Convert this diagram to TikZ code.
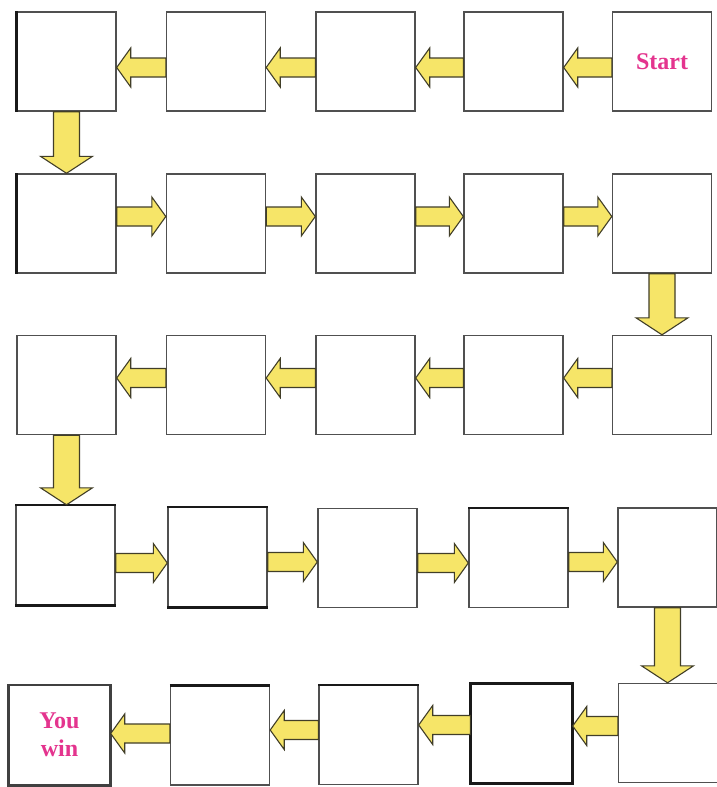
\documentclass[tikz,border=0pt]{standalone}
\usepackage{fontspec}
\setmainfont{Liberation Serif}
\usetikzlibrary{calc}
\definecolor{boxline}{RGB}{80,80,80}
\definecolor{arrfill}{RGB}{246,229,104}
\definecolor{arrline}{RGB}{65,62,40}
\definecolor{pinktext}{RGB}{228,52,142}
\tikzset{
  sq/.style={draw=boxline, line width=1.4pt, fill=white, minimum width=99pt, minimum height=99pt, inner sep=0pt},
  heavy/.style={draw=black!90, line width=2.6pt},
  yarrow/.style={fill=arrfill, draw=arrline, line width=1.1pt, line join=miter},
  label/.style={text=pinktext, font=\bfseries\fontsize{24}{28}\selectfont, align=center}
}
% left-pointing arrow: from box #1 (right) to box #2 (left), vertical offset #3 (down positive)
\newcommand{\arrL}[3]{%
  \draw[yarrow] let \p1=(#1.west), \p2=(#2.east) in
    (\x1,{\y1-(#3pt)+9.5pt}) -- ({\x2+14pt},{\y1-(#3pt)+9.5pt}) -- ({\x2+14pt},{\y1-(#3pt)+19.5pt})
    -- (\x2,{\y1-(#3pt)}) -- ({\x2+14pt},{\y1-(#3pt)-19.5pt}) -- ({\x2+14pt},{\y1-(#3pt)-9.5pt})
    -- (\x1,{\y1-(#3pt)-9.5pt}) -- cycle;}
% right-pointing arrow
\newcommand{\arrR}[3]{%
  \draw[yarrow] let \p1=(#1.east), \p2=(#2.west) in
    (\x1,{\y1-(#3pt)+9.5pt}) -- ({\x2-14pt},{\y1-(#3pt)+9.5pt}) -- ({\x2-14pt},{\y1-(#3pt)+19.5pt})
    -- (\x2,{\y1-(#3pt)}) -- ({\x2-14pt},{\y1-(#3pt)-19.5pt}) -- ({\x2-14pt},{\y1-(#3pt)-9.5pt})
    -- (\x1,{\y1-(#3pt)-9.5pt}) -- cycle;}
% down arrow
\newcommand{\arrD}[2]{%
  \draw[yarrow] let \p1=(#1.south), \p2=(#2.north) in
    ({\x1-13pt},\y1) -- ({\x1-13pt},{\y2+17pt}) -- ({\x1-26pt},{\y2+17pt}) -- (\x1,\y2)
    -- ({\x1+26pt},{\y2+17pt}) -- ({\x1+13pt},{\y2+17pt}) -- ({\x1+13pt},\y1) -- cycle;}
\begin{document}
\begin{tikzpicture}[x=1pt,y=-1pt]
\useasboundingbox (0,0) rectangle (717,787);
\fill[white] (0,0) rectangle (717,787);
% row 1
\node[sq] (a1) at (66.5,61.5) {};
\node[sq] (a2) at (216,61.5) {};
\node[sq] (a3) at (365.5,61.5) {};
\node[sq] (a4) at (513.5,61.5) {};
\node[sq,label] (a5) at (662,61.5) {Start};
% row 2
\node[sq] (b1) at (66.5,223.5) {};
\node[sq] (b2) at (216,223.5) {};
\node[sq] (b3) at (365.5,223.5) {};
\node[sq] (b4) at (513.5,223.5) {};
\node[sq] (b5) at (662,223.5) {};
% row 3
\node[sq] (c1) at (66.5,385) {};
\node[sq] (c2) at (216,385) {};
\node[sq] (c3) at (365.5,385) {};
\node[sq] (c4) at (513.5,385) {};
\node[sq] (c5) at (662,385) {};
% row 4
\node[sq] (d1) at (65.5,555) {};
\node[sq] (d2) at (217.5,557) {};
\node[sq] (d3) at (367.5,558) {};
\node[sq] (d4) at (518.5,558) {};
\node[sq] (d5) at (667.5,557.5) {};
% row 5
\node[sq,label,minimum width=101pt] (e1) at (59.5,735) {You\\win};
\node[sq] (e2) at (220,735.5) {};
\node[sq] (e3) at (368.5,735) {};
\node[sq,minimum width=101pt] (e4) at (521.5,733.5) {};
\node[sq] (e5) at (668,733) {};
% heavier edges
\draw[heavy] (a1.north west) -- (a1.south west);
\draw[heavy] (b1.north west) -- (b1.south west);
\draw[heavy] (d1.north west) -- (d1.north east);
\draw[heavy] (d1.south west) -- (d1.south east);
\draw[heavy] (d2.north west) -- (d2.north east);
\draw[heavy] (d2.south west) -- (d2.south east);
\draw[heavy] (d4.north west) -- (d4.north east);
\draw[heavy] (e2.north west) -- (e2.north east);
\draw[heavy] (e3.north west) -- (e3.north east);
\draw[heavy,draw=black!75] (e1.north west) rectangle (e1.south east);
\draw[heavy,line width=3pt] (e4.north west) rectangle (e4.south east);
% arrows row 1 (right to left)
\arrL{a5}{a4}{6}
\arrL{a4}{a3}{6}
\arrL{a3}{a2}{6}
\arrL{a2}{a1}{6}
\arrD{a1}{b1}
% row 2 (left to right)
\arrR{b1}{b2}{-7}
\arrR{b2}{b3}{-7}
\arrR{b3}{b4}{-7}
\arrR{b4}{b5}{-7}
\arrD{b5}{c5}
% row 3
\arrL{c5}{c4}{-7}
\arrL{c4}{c3}{-7}
\arrL{c3}{c2}{-7}
\arrL{c2}{c1}{-7}
\arrD{c1}{d1}
% row 4
\arrR{d1}{d2}{8}
\arrR{d2}{d3}{5}
\arrR{d3}{d4}{5}
\arrR{d4}{d5}{4}
\arrD{d5}{e5}
% row 5
\arrL{e5}{e4}{-7}
\arrL{e4}{e3}{-8.5}
\arrL{e3}{e2}{-5}
\arrL{e2}{e1}{-2}
\end{tikzpicture}
\end{document}
